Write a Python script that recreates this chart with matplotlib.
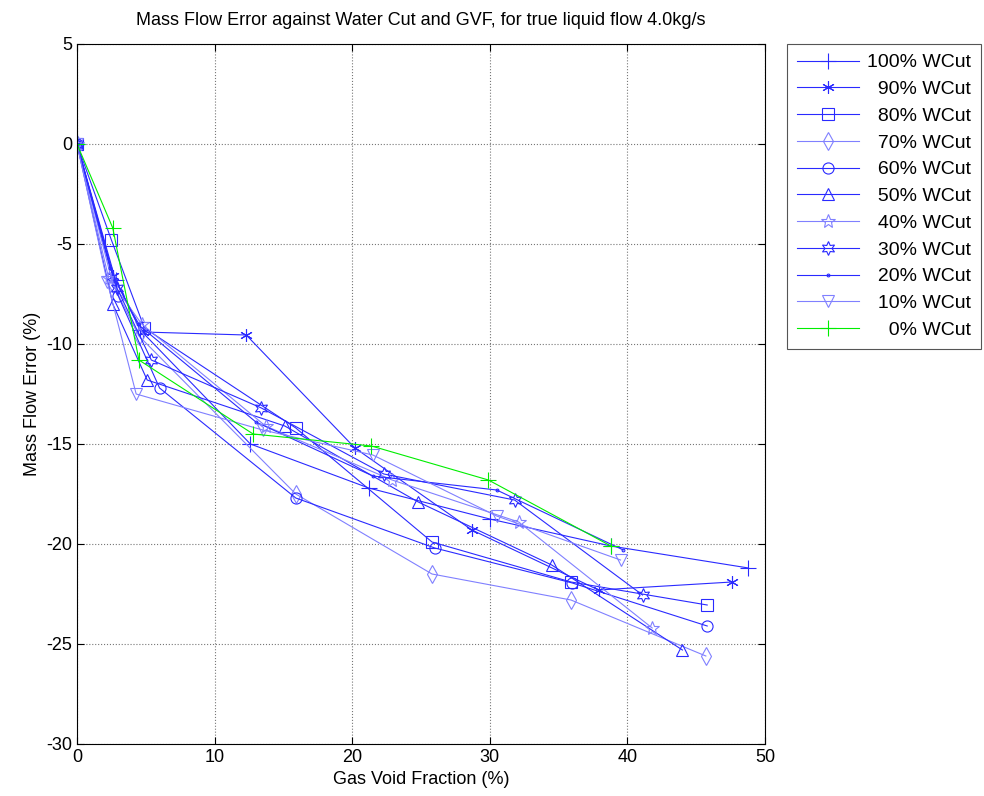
import numpy as np
import matplotlib
matplotlib.use("Agg")
import matplotlib.pyplot as plt
from matplotlib import rcParams

rcParams['font.family'] = ['Liberation Sans', 'DejaVu Sans']
rcParams['axes.unicode_minus'] = False

# water cut series: gas void fraction (%) and mass flow error (%)
labels = ['100% WCut', '\u200790% WCut', '\u200780% WCut', '\u200770% WCut',
          '\u200760% WCut', '\u200750% WCut', '\u200740% WCut', '\u200730% WCut',
          '\u200720% WCut', '\u200710% WCut', '\u2007\u20070% WCut']

gvf_100 = [0, 2.8, 4.6, 12.6, 21.2, 30.0, 38.8, 48.8]
err_100 = [0, -6.8, -9.3, -15.0, -17.2, -18.75, -20.1, -21.2]
gvf_90 = [0, 2.6, 4.8, 12.3, 20.2, 28.7, 37.9, 47.6]
err_90 = [0, -6.6, -9.4, -9.55, -15.2, -19.3, -22.3, -21.9]
gvf_80 = [0, 2.5, 4.9, 15.9, 25.8, 35.9, 45.8]
err_80 = [0, -4.8, -9.2, -14.2, -19.9, -21.9, -23.05]
gvf_70 = [0, 2.6, 4.5, 15.9, 25.8, 35.9, 45.7]
err_70 = [0, -7.0, -9.6, -17.5, -21.5, -22.8, -25.6]
gvf_60 = [0, 3.0, 6.0, 15.9, 26.0, 36.0, 45.8]
err_60 = [0, -7.6, -12.2, -17.7, -20.2, -21.95, -24.1]
gvf_50 = [0, 2.6, 5.1, 15.1, 24.8, 34.5, 44.0]
err_50 = [0, -8.0, -11.8, -14.1, -17.9, -21.05, -25.3]
gvf_40 = [0, 2.3, 4.7, 13.7, 22.9, 32.1, 41.8]
err_40 = [0, -6.7, -9.0, -14.1, -16.8, -18.9, -24.2]
gvf_30 = [0, 2.9, 5.4, 13.4, 22.3, 31.8, 41.1]
err_30 = [0, -7.2, -10.8, -13.2, -16.5, -17.8, -22.55]
gvf_20 = [0, 2.4, 4.4, 13.0, 21.5, 30.5, 39.7]
err_20 = [0, -6.2, -9.0, -13.9, -16.6, -17.3, -20.3]
gvf_10 = [0, 2.2, 4.3, 13.5, 21.5, 30.5, 39.5]
err_10 = [0, -6.9, -12.5, -14.3, -15.55, -18.6, -20.8]
gvf_0 = [0, 2.6, 4.5, 12.8, 21.4, 29.9, 38.8]
err_0 = [0, -4.2, -10.8, -14.5, -15.1, -16.8, -20.1]

gvf = [gvf_100, gvf_90, gvf_80, gvf_70, gvf_60, gvf_50, gvf_40, gvf_30, gvf_20, gvf_10, gvf_0]
err = [err_100, err_90, err_80, err_70, err_60, err_50, err_40, err_30, err_20, err_10, err_0]

dark = '#2a2aff'
light = '#8080ff'
colors = [dark, dark, dark, light, dark, dark, light, dark, dark, light, '#00ee00']
markers = ['+', (6, 2, 0), 's', 'd', 'o', '^', '*', (6, 1, 0), '.', 'v', '+']
msizes = [11, 9, 8, 9, 8, 8, 10, 10, 4, 9, 11]

fig = plt.figure(figsize=(9.84, 7.96), dpi=100)
ax = fig.add_axes([77/984, 52/796, 688/984, 700/796])

for x, y, c, m, ms, lab in zip(gvf, err, colors, markers, msizes, labels):
    ax.plot(x, y, color=c, marker=m, markersize=ms, markerfacecolor='none',
            markeredgecolor=c, markeredgewidth=0.8, linewidth=0.8, label=lab)

ax.set_xlim(0, 50)
ax.set_ylim(-30, 5)
ax.set_xticks(np.arange(0, 51, 10))
ax.set_yticks(np.arange(-30, 6, 5))
ax.tick_params(direction='in', labelsize=13, length=5, top=True, right=True)
ax.grid(True, linestyle=':', color='#777777', linewidth=0.8)
for s in ax.spines.values():
    s.set_linewidth(0.8)

ax.set_xlabel('Gas Void Fraction (%)', fontsize=13, labelpad=4)
ax.set_ylabel('Mass Flow Error (%)', fontsize=13, labelpad=4)
ax.set_title('Mass Flow Error against Water Cut and GVF, for true liquid flow 4.0kg/s',
             fontsize=13, pad=14)

leg = fig.legend(loc='upper left', bbox_to_anchor=(787/984, 1 - 44/796), borderaxespad=0,
                 fontsize=14, handlelength=3.2, labelspacing=0.47, fancybox=False,
                 edgecolor='#555555', framealpha=1, borderpad=0.5, handletextpad=0.4)
leg.get_frame().set_linewidth(0.8)

fig.savefig('out.png', dpi=100)
